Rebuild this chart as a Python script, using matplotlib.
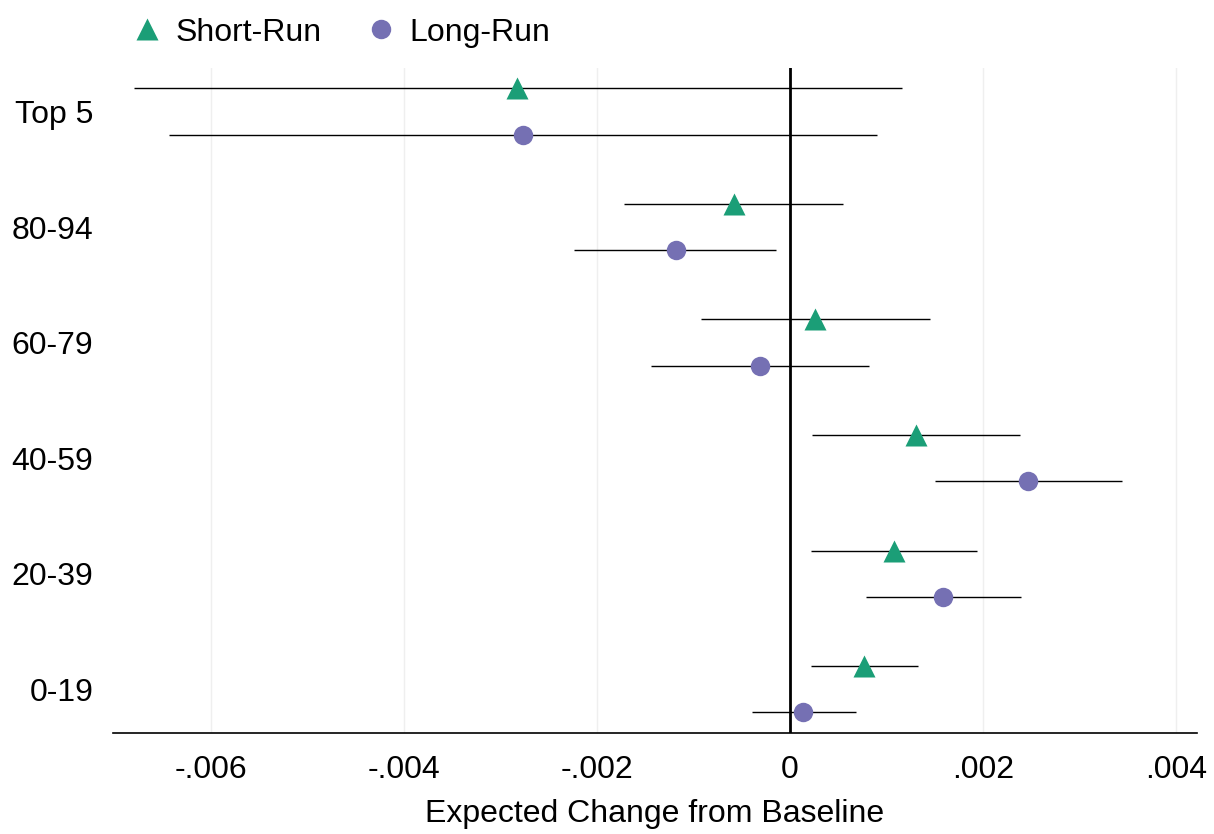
import numpy as np
import matplotlib.pyplot as plt
from matplotlib.lines import Line2D

plt.rcParams['font.family'] = ['Liberation Sans', 'DejaVu Sans']

# Income groups, bottom to top
grupos = ["0-19", "20-39", "40-59", "60-79", "80-94", "Top 5"]

# Short-run estimates and 95% intervals
sr_est = [0.00077, 0.00108, 0.00131, 0.00026, -0.00058, -0.00283]
sr_lo = [0.00022, 0.00022, 0.00023, -0.00092, -0.00172, -0.00680]
sr_hi = [0.00133, 0.00194, 0.00239, 0.00145, 0.00055, 0.00116]

# Long-run estimates and 95% intervals
lr_est = [0.00013, 0.00159, 0.00247, -0.00031, -0.00118, -0.00277]
lr_lo = [-0.00039, 0.00079, 0.00150, -0.00144, -0.00224, -0.00644]
lr_hi = [0.00068, 0.00240, 0.00344, 0.00082, -0.00015, 0.00090]

xticks = [-0.006, -0.004, -0.002, 0, 0.002, 0.004]
xticklabels = ["-.006", "-.004", "-.002", "0", ".002", ".004"]

verde = "#1b9e77"
morado = "#7570b3"

fig = plt.figure(figsize=(12.14, 8.34), dpi=100)
ax = fig.add_axes([0.093, 0.121, 0.893, 0.798])

pos = np.arange(len(grupos))
y_sr = pos + 0.2
y_lr = pos - 0.2

ax.hlines(y_sr, sr_lo, sr_hi, color="black", lw=1.0, zorder=2)
ax.hlines(y_lr, lr_lo, lr_hi, color="black", lw=1.0, zorder=2)
ax.axvline(0, color="black", lw=2.0, zorder=3)
ax.plot(sr_est, y_sr, "^", color=verde, ms=16, mec="none", zorder=4)
ax.plot(lr_est, y_lr, "o", color=morado, ms=14, mec="none", zorder=4)

ax.set_xlim(-0.00702, 0.00422)
ax.set_ylim(-0.38, 5.38)
ax.set_xticks(xticks)
ax.set_xticklabels(xticklabels)
ax.set_yticks(pos)
ax.set_yticklabels(grupos)
ax.tick_params(axis="both", length=0, labelsize=23)
ax.tick_params(axis="y", pad=14)
ax.tick_params(axis="x", pad=16)
ax.grid(axis="x", color="#efefef", lw=1.0)
ax.set_axisbelow(True)

for lado in ["left", "right", "top"]:
    ax.spines[lado].set_visible(False)
ax.spines["bottom"].set_linewidth(1.2)

ax.set_xlabel("Expected Change from Baseline", fontsize=23, labelpad=10)

handles = [
    Line2D([], [], marker="^", ls="none", color=verde, ms=16, mec="none"),
    Line2D([], [], marker="o", ls="none", color=morado, ms=14, mec="none"),
]
fig.legend(handles, ["Short-Run", "Long-Run"], loc="center left",
           bbox_to_anchor=(0.108, 0.961), ncol=2, frameon=False, fontsize=23,
           handletextpad=0.4, columnspacing=1.35, handlelength=1.0,
           borderpad=0, borderaxespad=0)

fig.savefig("out.png", dpi=100)
